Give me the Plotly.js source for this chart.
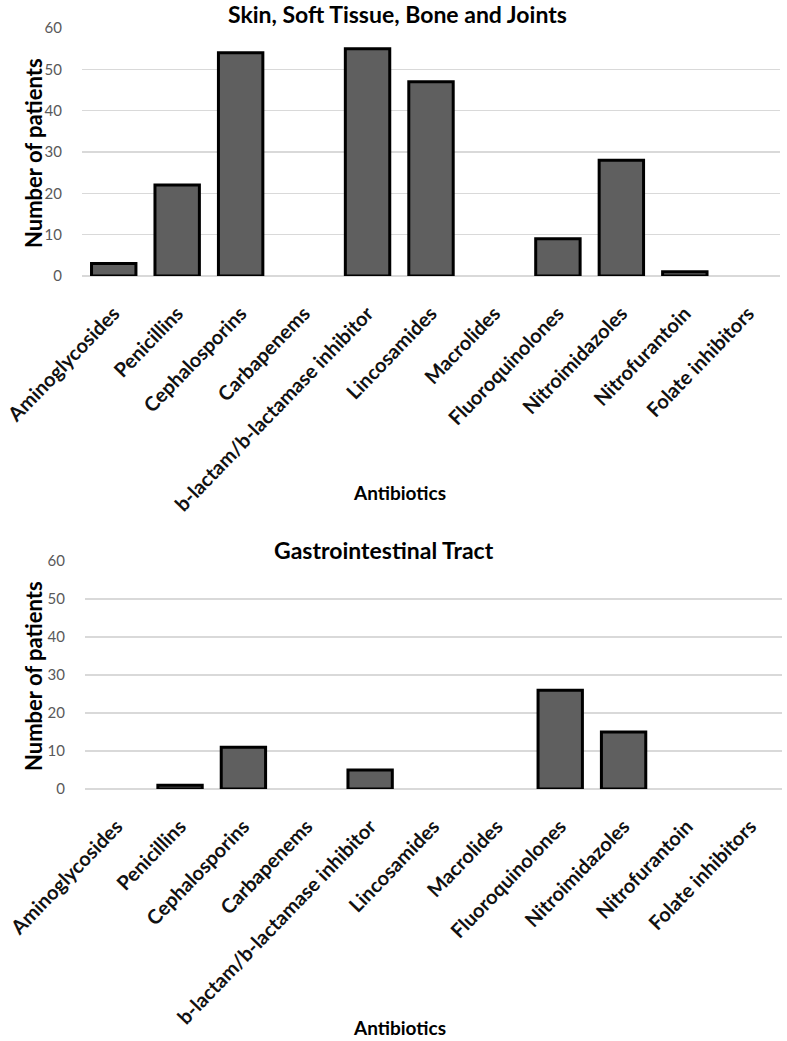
<!DOCTYPE html>
<html>
<head>
<meta charset="utf-8">
<script src="https://cdn.plot.ly/plotly-3.0.1.min.js"></script>
<style>html,body{margin:0;padding:0;background:#fff;}#chart{width:787px;height:1041px;}</style>
</head>
<body>
<div id="chart"></div>
<script>
const categories = ["Aminoglycosides","Penicillins","Cephalosporins","Carbapenems","b-lactam/b-lactamase inhibitor","Lincosamides","Macrolides","Fluoroquinolones","Nitroimidazoles","Nitrofurantoin","Folate inhibitors"];
const skinValues = [3,22,54,0,55,47,0,9,28,1,0];
const giValues = [0,1,11,0,5,0,0,26,15,0,0];
const yTicks = [0,10,20,30,40,50,60];
const chartTitles = ["Skin, Soft Tissue, Bone and Joints","Gastrointestinal Tract"];
const xTitle = "Antibiotics";
const yTitle = "Number of patients";

const W = 787, H = 1041;
const FONT = "Lato, 'Open Sans', sans-serif";
const px = v => v / W;
const py = v => 1 - v / H;

function barMarker(vals){
  return {color:'#5f5f5f', line:{color:'#000', width:vals.map(v => v === 0 ? 0 : 3)}};
}
const traces = [
  {type:'bar', x:categories, y:skinValues, marker:barMarker(skinValues), xaxis:'x', yaxis:'y', hoverinfo:'x+y'},
  {type:'bar', x:categories, y:giValues, marker:barMarker(giValues), xaxis:'x2', yaxis:'y2', hoverinfo:'x+y'}
];

const xBase = {
  type:'category', tickangle:-46, showgrid:false, showline:false, zeroline:false,
  ticks:'outside', ticklen:17, tickcolor:'rgba(0,0,0,0)',
  tickfont:{family:FONT, size:20, color:'#111', weight:'bold'},
  automargin:false, fixedrange:true
};
const yBase = {
  range:[0,60], tickvals:yTicks, showgrid:true, gridcolor:'#d9d9d9', gridwidth:1.5,
  zeroline:true, zerolinecolor:'#d9d9d9', zerolinewidth:2, showline:false,
  ticks:'outside', ticklen:16, tickcolor:'rgba(0,0,0,0)',
  tickfont:{family:FONT, size:15, color:'#595959'}, automargin:false, fixedrange:true
};

const layout = {
  width:W, height:H, margin:{l:0,r:0,t:0,b:0}, showlegend:false,
  paper_bgcolor:'#fff', plot_bgcolor:'#fff', bargap:0.3,
  xaxis:Object.assign({}, xBase, {domain:[px(82), px(780)], anchor:'y'}),
  yaxis:Object.assign({}, yBase, {domain:[py(276), py(28)], anchor:'x'}),
  xaxis2:Object.assign({}, xBase, {domain:[px(85), px(782)], anchor:'y2'}),
  yaxis2:Object.assign({}, yBase, {domain:[py(789), py(561)], anchor:'x2'}),
  annotations:[
    {text:chartTitles[0], x:px(397), y:py(14), xref:'paper', yref:'paper', showarrow:false, xanchor:'center', yanchor:'middle', font:{family:FONT, size:23, color:'#000', weight:'bold'}},
    {text:chartTitles[1], x:px(384), y:py(550), xref:'paper', yref:'paper', showarrow:false, xanchor:'center', yanchor:'middle', font:{family:FONT, size:23, color:'#000', weight:'bold'}},
    {text:yTitle, x:px(33), y:py(153), xref:'paper', yref:'paper', showarrow:false, textangle:-90, xanchor:'center', yanchor:'middle', font:{family:FONT, size:22, color:'#000', weight:'bold'}},
    {text:yTitle, x:px(33), y:py(676), xref:'paper', yref:'paper', showarrow:false, textangle:-90, xanchor:'center', yanchor:'middle', font:{family:FONT, size:22, color:'#000', weight:'bold'}},
    {text:xTitle, x:px(399), y:py(492), xref:'paper', yref:'paper', showarrow:false, xanchor:'center', yanchor:'middle', font:{family:FONT, size:19, color:'#000', weight:'bold'}},
    {text:xTitle, x:px(399), y:py(1027), xref:'paper', yref:'paper', showarrow:false, xanchor:'center', yanchor:'middle', font:{family:FONT, size:19, color:'#000', weight:'bold'}}
  ]
};

Plotly.newPlot('chart', traces, layout, {displayModeBar:false, staticPlot:true});
</script>
</body>
</html>
